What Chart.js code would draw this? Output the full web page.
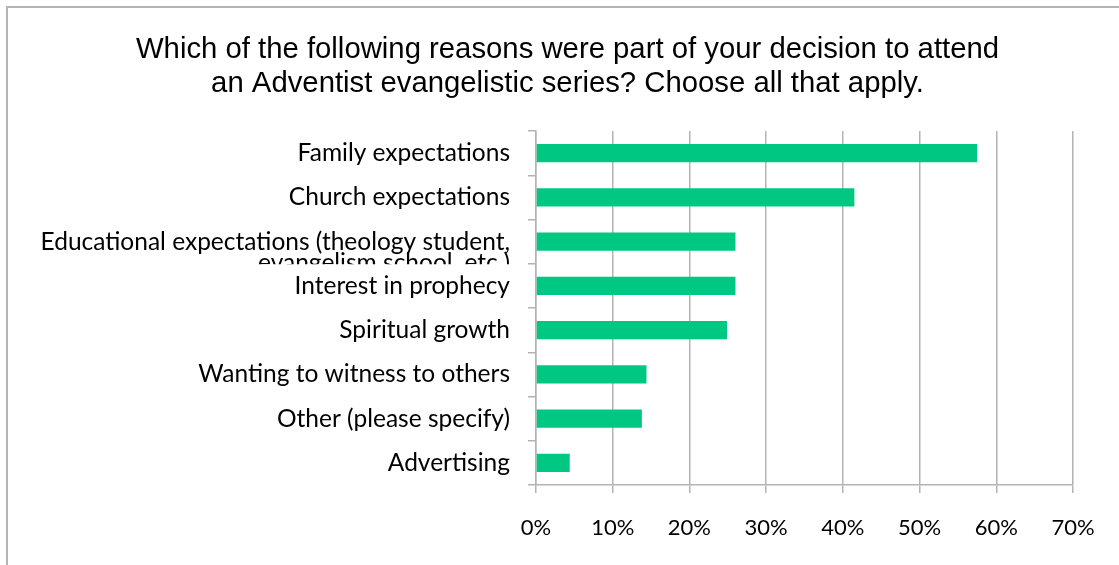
<!DOCTYPE html>
<html lang="en">
<head>
    <meta charset="UTF-8">
    <meta name="viewport" content="width=device-width, initial-scale=1.0">
    <title>Reasons to attend</title>
    <script src="https://cdn.jsdelivr.net/npm/chart.js"></script>
</head>
<body>

    <div class="frame"></div>
    <div class="chart-box">
        <canvas id="reasonsChart"></canvas>
    </div>

    <script>
        const categories = [
            "Family expectations",
            "Church expectations",
            "Educational expectations (theology student, evangelism school, etc.)",
            "Interest in prophecy",
            "Spiritual growth",
            "Wanting to witness to others",
            "Other (please specify)",
            "Advertising"
        ];
        const percentages = [57.5, 41.5, 26.0, 26.0, 24.9, 14.4, 13.8, 4.4];
        const xTicks = [0, 10, 20, 30, 40, 50, 60, 70];
        const titleLines = [
            "Which of the following reasons were part of your decision to attend",
            "an Adventist evangelistic series? Choose all that apply."
        ];

        // the long label wraps and its second line gets cut off at the band edge
        const clipLongLabel = {
            id: "clipLongLabel",
            beforeDraw(chart) {
                const y = chart.scales.y;
                const edge = (y.getPixelForValue(2) + y.getPixelForValue(3)) / 2;
                const ctx = chart.ctx;
                ctx.save();
                ctx.beginPath();
                ctx.rect(0, 0, chart.width, chart.height);
                ctx.rect(0, edge + 0.5, y.right - 10, 11);
                ctx.clip("evenodd");
            },
            afterDraw(chart) {
                chart.ctx.restore();
            }
        };

        // title is centred on the whole chart box, not only left of the right margin
        const centerTitle = {
            id: "centerTitle",
            afterLayout(chart) {
                chart.titleBlock.left = 0;
                chart.titleBlock.right = chart.width;
            }
        };

        function labelFor(index) {
            const text = categories[index];
            if (text.length < 40) return text;
            const cut = text.indexOf(",") + 1;
            return ["", text.slice(0, cut), text.slice(cut + 1)];
        }

        new Chart(document.getElementById("reasonsChart"), {
            type: "bar",
            data: {
                labels: categories,
                datasets: [{
                    data: percentages,
                    backgroundColor: "#00c882",
                    borderWidth: 0,
                    barPercentage: 0.41,
                    categoryPercentage: 1.0
                }]
            },
            options: {
                indexAxis: "y",
                responsive: true,
                maintainAspectRatio: false,
                animation: false,
                layout: { padding: { left: 0, right: 62, top: 0, bottom: 1.6 } },
                plugins: {
                    legend: { display: false },
                    tooltip: { enabled: false },
                    title: {
                        display: true,
                        text: titleLines,
                        color: "#000",
                        font: { family: "'Liberation Sans', Arial, sans-serif", size: 29.3, weight: "normal", lineHeight: 34 / 29.3 },
                        padding: { top: 33, bottom: 30 }
                    }
                },
                scales: {
                    x: {
                        min: 0,
                        max: 70,
                        afterBuildTicks: (scale) => { scale.ticks = xTicks.map(v => ({ value: v })); },
                        ticks: {
                            callback: (v) => v + "%",
                            color: "#000",
                            padding: 22,
                            font: { family: "Lato, sans-serif", size: 22 }
                        },
                        grid: { color: "#b3b3b3", lineWidth: 1.5, tickLength: 8 },
                        border: { color: "#b3b3b3", width: 1.5 }
                    },
                    y: {
                        afterFit: (scale) => { scale.width = 536; },
                        ticks: {
                            callback: (v) => labelFor(v),
                            color: "#000",
                            padding: 18,
                            autoSkip: false,
                            font: { family: "Lato, sans-serif", size: 24.5, lineHeight: 21 / 24.5 }
                        },
                        grid: { drawOnChartArea: false, color: "#b3b3b3", lineWidth: 1.5, tickLength: 8 },
                        border: { color: "#b3b3b3", width: 1.5 }
                    }
                }
            },
            plugins: [clipLongLabel, centerTitle]
        });
    </script>

    <style>
        body {
            margin: 0;
            background: #fff;
            overflow: hidden;
        }

        .frame {
            position: absolute;
            left: 6px;
            top: 6px;
            width: 1200px;
            height: 600px;
            border-top: 2px solid #b4b4b4;
            border-left: 2px solid #b4b4b4;
        }

        .chart-box {
            position: absolute;
            left: 0;
            top: 0;
            width: 1135px;
            height: 565px;
        }
    </style>

</body>
</html>
